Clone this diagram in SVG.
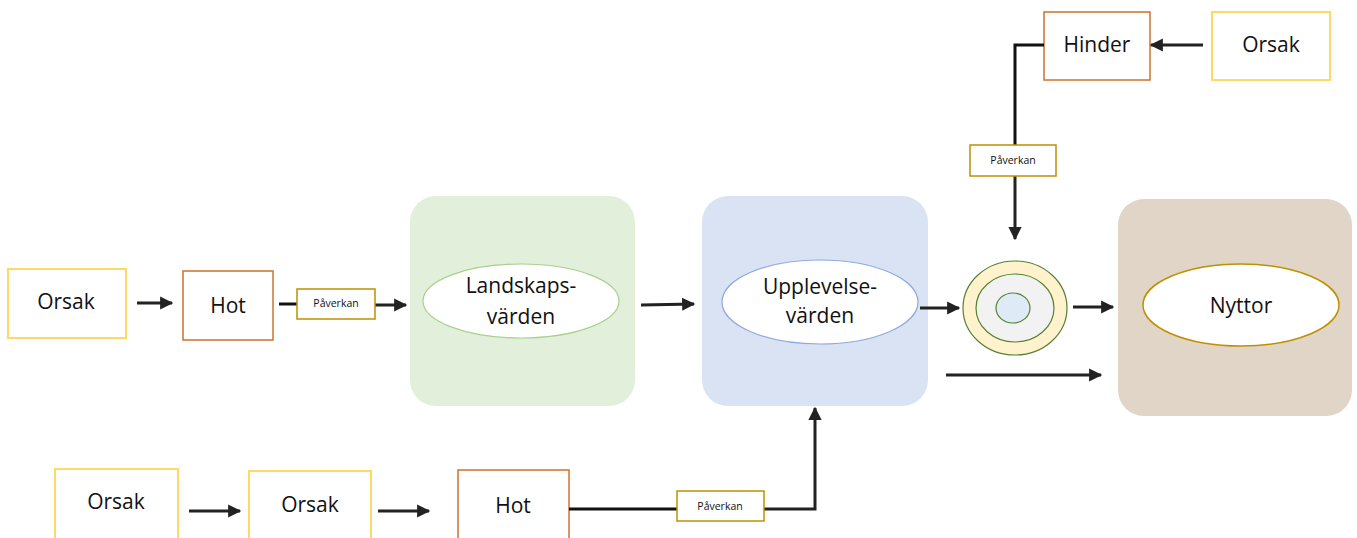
<svg xmlns="http://www.w3.org/2000/svg" width="1357" height="538" viewBox="0 0 1357 538">
  <style>
    .lbl { font-family: "Open Sans", "Noto Sans", "Liberation Sans", sans-serif; font-size: 21px; fill: #111; text-anchor: middle; }
    .small { font-family: "Open Sans", "Noto Sans", "Liberation Sans", sans-serif; font-size: 10.5px; fill: #111; text-anchor: middle; }
    .cause { fill: #fff; stroke: #FFD966; stroke-width: 2; }
    .threat { fill: #fff; stroke: #D0702F; stroke-width: 1.5; }
    .effect { fill: #fff; stroke: #BF9000; stroke-width: 1.5; }
    .conn { fill: none; stroke: #111; stroke-width: 3; }
    .arrow { fill: none; stroke: #222; stroke-width: 3; marker-end: url(#head); }
  </style>
  <defs>
    <marker id="head" viewBox="0 0 10 10" refX="9" refY="5" markerWidth="4.6" markerHeight="4.4" orient="auto" markerUnits="strokeWidth">
      <path d="M0,0 L10,5 L0,10 z" fill="#222"/>
    </marker>
  </defs>

  <!-- value containers -->
  <g id="landskap">
    <rect x="410" y="196" width="225" height="210" rx="26" fill="#E2EFDA"/>
    <ellipse cx="521" cy="301" rx="98" ry="37" fill="#fff" stroke="#A9D18E" stroke-width="1.2"/>
    <text class="lbl" x="521" y="293">Landskaps-</text>
    <text class="lbl" x="521" y="324">värden</text>
  </g>
  <g id="upplevelse">
    <rect x="702" y="196" width="226" height="210" rx="26" fill="#DAE3F3"/>
    <ellipse cx="820" cy="302" rx="98" ry="42" fill="#fff" stroke="#8FAADC" stroke-width="1.2"/>
    <text class="lbl" x="820" y="294">Upplevelse-</text>
    <text class="lbl" x="820" y="323">värden</text>
  </g>
  <g id="nyttor">
    <rect x="1118" y="199" width="234" height="217" rx="26" fill="#E0D5C7"/>
    <ellipse cx="1241" cy="305" rx="98" ry="41" fill="#fff" stroke="#BF9000" stroke-width="1.5"/>
    <text class="lbl" x="1241" y="313">Nyttor</text>
  </g>
  <g id="rings">
    <ellipse cx="1015" cy="308" rx="52" ry="47" fill="#FFF2CC" stroke="#548235" stroke-width="1.2"/>
    <ellipse cx="1015" cy="308" rx="39" ry="34" fill="#F2F2F2" stroke="#548235" stroke-width="1.2"/>
    <ellipse cx="1013" cy="308" rx="17" ry="15" fill="#DEEBF7" stroke="#548235" stroke-width="1.2"/>
  </g>

  <!-- middle row -->
  <g id="orsak1">
    <rect class="cause" x="8" y="269" width="118" height="69"/>
    <text class="lbl" x="66" y="309">Orsak</text>
  </g>
  <g id="hot1">
    <rect class="threat" x="183" y="271" width="90" height="69"/>
    <text class="lbl" x="228" y="313">Hot</text>
  </g>

  <!-- top right -->
  <g id="hinder">
    <rect class="threat" x="1044" y="12" width="106" height="68"/>
    <text class="lbl" x="1097" y="52">Hinder</text>
  </g>
  <g id="orsak-top">
    <rect class="cause" x="1212" y="12" width="118" height="68"/>
    <text class="lbl" x="1271" y="52">Orsak</text>
  </g>

  <!-- bottom row -->
  <g id="orsak2">
    <rect class="cause" x="55" y="469" width="123" height="75"/>
    <text class="lbl" x="116" y="509">Orsak</text>
  </g>
  <g id="orsak3">
    <rect class="cause" x="249" y="471" width="122" height="73"/>
    <text class="lbl" x="310" y="512">Orsak</text>
  </g>
  <g id="hot2">
    <rect class="threat" x="458" y="470" width="111" height="74"/>
    <text class="lbl" x="513" y="513">Hot</text>
  </g>

  <!-- connectors -->
  <g id="connectors">
    <line class="arrow" x1="137" y1="303" x2="172" y2="303"/>
    <line class="conn" x1="279" y1="304" x2="297" y2="304"/>
    <line class="arrow" x1="375" y1="305" x2="406" y2="305"/>
    <line class="arrow" x1="641" y1="305" x2="694" y2="304"/>
    <line class="arrow" x1="920" y1="308" x2="959" y2="308"/>
    <line class="arrow" x1="1073" y1="307" x2="1113" y2="307"/>
    <line class="arrow" x1="946" y1="375" x2="1101" y2="375"/>
    <line class="arrow" x1="1203" y1="45" x2="1151" y2="45"/>
    <polyline class="conn" points="1044,45 1015,45 1015,146"/>
    <line class="arrow" x1="1015" y1="176" x2="1015" y2="239"/>
    <line class="arrow" x1="189" y1="511" x2="240" y2="511"/>
    <line class="arrow" x1="378" y1="511" x2="429" y2="511"/>
    <line class="conn" x1="569" y1="509" x2="677" y2="509"/>
    <polyline class="arrow" points="764,509 815,509 815,408"/>
  </g>

  <!-- impact labels -->
  <g id="paverkan1">
    <rect class="effect" x="297" y="289" width="78" height="30"/>
    <text class="small" x="336" y="307">Påverkan</text>
  </g>
  <g id="paverkan2">
    <rect class="effect" x="970" y="145" width="86" height="31"/>
    <text class="small" x="1013" y="164">Påverkan</text>
  </g>
  <g id="paverkan3">
    <rect class="effect" x="677" y="491" width="87" height="30"/>
    <text class="small" x="720" y="510">Påverkan</text>
  </g>
</svg>
